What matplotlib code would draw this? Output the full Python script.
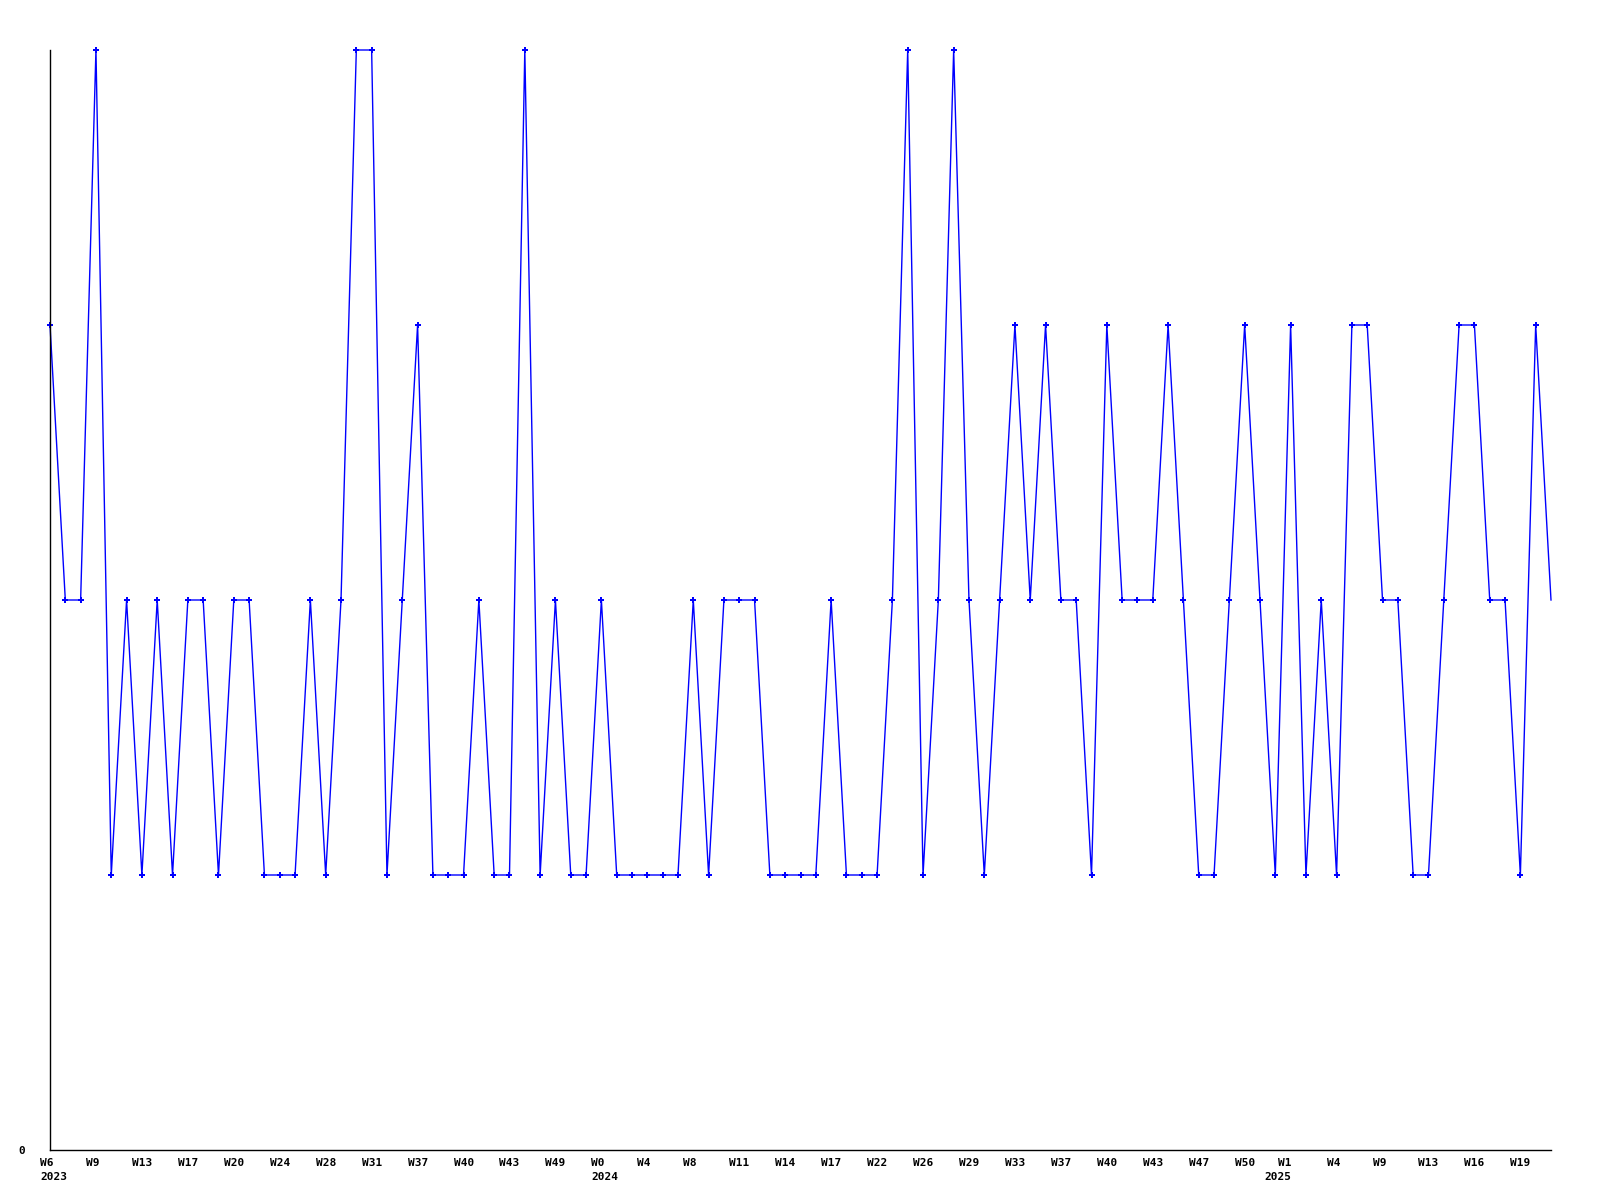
import numpy as np
import matplotlib
matplotlib.use("Agg")
import matplotlib.pyplot as plt
import matplotlib.transforms as mtransforms

# weekly values, one per data point
values = [3, 2, 2, 4, 1, 2, 1, 2, 1, 2, 2, 1, 2, 2, 1, 1, 1, 2, 1, 2,
          4, 4, 1, 2, 3, 1, 1, 1, 2, 1, 1, 4, 1, 2, 1, 1, 2, 1, 1, 1,
          1, 1, 2, 1, 2, 2, 2, 1, 1, 1, 1, 2, 1, 1, 1, 2, 4, 1, 2, 4,
          2, 1, 2, 3, 2, 3, 2, 2, 1, 3, 2, 2, 2, 3, 2, 1, 1, 2, 3, 2,
          1, 3, 1, 2, 1, 3, 3, 2, 2, 1, 1, 2, 3, 3, 2, 2, 1, 3, 2]

week_labels = ["W6", "W9", "W13", "W17", "W20", "W24", "W28", "W31", "W37",
               "W40", "W43", "W49", "W0", "W4", "W8", "W11", "W14", "W17",
               "W22", "W26", "W29", "W33", "W37", "W40", "W43", "W47", "W50",
               "W1", "W4", "W9", "W13", "W16", "W19"]
# label index -> year shown underneath
year_at = {0: "2023", 12: "2024", 27: "2025"}

x = np.arange(len(values))
tick_pos = x[::3]
labels = [w + "\n" + year_at[i] if i in year_at else w
          for i, w in enumerate(week_labels)]

fig = plt.figure(figsize=(16, 12), dpi=100)
ax = fig.add_axes([50/1600, 50/1200, 1501/1600, 1100/1200])

ax.plot(x, values, color="#0000ff", lw=1.0, marker="P", ms=4.5, mew=0,
        markevery=list(range(len(values) - 1)), clip_on=False)

ax.set_xlim(0, len(values) - 1)
ax.set_ylim(0, 4)
for s in ["top", "right"]:
    ax.spines[s].set_visible(False)
for s in ["left", "bottom"]:
    ax.spines[s].set_linewidth(1.0)
    ax.spines[s].set_color("black")

font = dict(family="DejaVu Sans Mono", weight="bold", size=8)
ax.set_yticks([0])
ax.set_yticklabels(["0"], **font)
ax.tick_params(axis="y", length=0, pad=18)

ax.set_xticks(tick_pos)
ax.set_xticklabels(labels, ha="left", linespacing=1.45, **font)
ax.tick_params(axis="x", length=0, pad=6)
for i, lab in enumerate(ax.get_xticklabels()):
    dx = -10
    if i == 27:
        # year wider than week label: week sits right-aligned over it
        lab.set_multialignment("right")
        dx = -26
    off = mtransforms.ScaledTranslation(dx/100, 0, fig.dpi_scale_trans)
    lab.set_transform(lab.get_transform() + off)

plt.savefig("out.png", dpi=100)
